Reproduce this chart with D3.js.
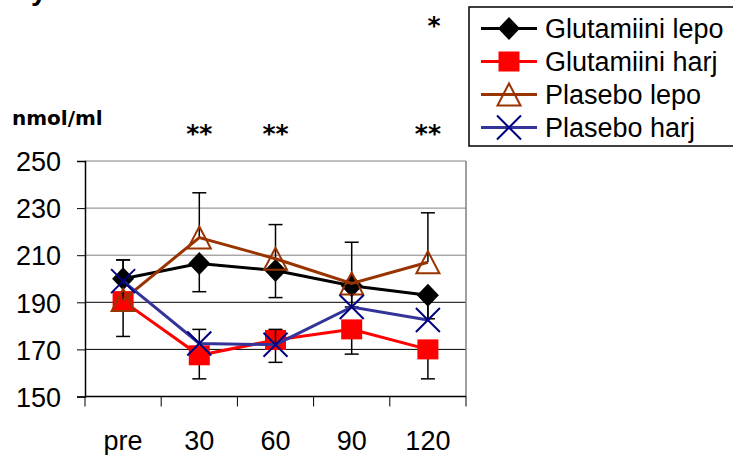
<!DOCTYPE html>
<html>
<head>
<meta charset="utf-8">
<script src="https://cdn.jsdelivr.net/npm/d3@7"></script>
<style>
  body { margin: 0; background: #fff; }
  svg { display: block; }
</style>
</head>
<body>
<svg id="canvas" width="733" height="455"></svg>
<script>
// time points
const categories = ["pre", "30", "60", "90", "120"];

// series means (nmol/ml)
const glutLepo = [200, 206.5, 203.5, 197, 193];
const glutHarj = [190.5, 167.5, 174, 178.5, 170];
const plasLepo = [191, 217.5, 208.5, 198, 207];
const plasHarj = [199, 172.5, 172, 188, 182.5];

// one-sided error bars
const glutLepoErr = [8, 12, 11.5, 9, 10];
const glutHarjErr = [15, 10, 9.5, 10.5, 12.5];
const plasLepoErr = [17, 19, 14.5, 17.5, 21];
const plasHarjErr = [9, 6, 6.5, 9, 10];

const yTicks = [150, 170, 190, 210, 230, 250];
const seriesNames = ["Glutamiini lepo", "Glutamiini harj", "Plasebo lepo", "Plasebo harj"];

// significance marks above the plot
const starLabels = ["**", "**", "**"];
const starCats = ["30", "60", "120"];

const svg = d3.select("#canvas");
const font = "'Liberation Sans', Arial, sans-serif";

const x = d3.scaleBand().domain(categories).range([85, 466]);
const y = d3.scaleLinear().domain([150, 250]).range([396.5, 161]);
const cx = (c) => x(c) + x.bandwidth() / 2;

const series = [
  { name: seriesNames[0], values: glutLepo, err: glutLepoErr, dir: -1, color: "#000000", marker: "diamond" },
  { name: seriesNames[1], values: glutHarj, err: glutHarjErr, dir: -1, color: "#ff0000", marker: "square" },
  { name: seriesNames[2], values: plasLepo, err: plasLepoErr, dir: 1, color: "#993300", marker: "triangle" },
  { name: seriesNames[3], values: plasHarj, err: plasHarjErr, dir: 1, color: "#333399", marker: "cross" },
];

// clipped title fragment at the very top (cut off in the original too)
svg.append("text")
  .attr("x", 31).attr("y", 0)
  .attr("font-family", font).attr("font-weight", "bold").attr("font-size", 28)
  .text("y");

// gridlines
svg.append("g")
  .selectAll("line")
  .data(yTicks.slice(1))
  .enter()
  .append("line")
  .attr("x1", 85).attr("x2", 466)
  .attr("y1", (d) => y(d)).attr("y2", (d) => y(d))
  .attr("stroke", (d) => (d > 200 ? "#808080" : "#000"))
  .attr("stroke-width", 1);

// right border
svg.append("line")
  .attr("x1", 466).attr("x2", 466).attr("y1", y(250)).attr("y2", y(150))
  .attr("stroke", "#808080").attr("stroke-width", 1.5);

// y axis
const yAxis = svg.append("g")
  .attr("transform", "translate(85,0)")
  .call(d3.axisLeft(y).tickValues(yTicks).tickSize(8).tickPadding(16));
yAxis.select(".domain").attr("stroke", "#000").attr("stroke-width", 1.5);
yAxis.selectAll(".tick line").attr("stroke", "#000").attr("stroke-width", 1);
yAxis.selectAll(".tick text")
  .attr("font-family", font).attr("font-size", 27).attr("fill", "#000")
  .attr("dy", "0.36em");

// x axis: ticks on band edges, labels in the centres
const xAxis = svg.append("g").attr("transform", `translate(0,${y(150)})`);
xAxis.append("line")
  .attr("x1", 85).attr("x2", 466)
  .attr("stroke", "#000").attr("stroke-width", 1.5);
const edges = categories.map((c) => x(c)).concat([x(categories[categories.length - 1]) + x.bandwidth()]);
xAxis.selectAll("line.tick")
  .data(edges)
  .enter()
  .append("line")
  .attr("class", "tick")
  .attr("x1", (d) => d).attr("x2", (d) => d)
  .attr("y1", 0).attr("y2", 10)
  .attr("stroke", "#000").attr("stroke-width", 1);
xAxis.selectAll("text")
  .data(categories)
  .enter()
  .append("text")
  .attr("x", (d) => cx(d))
  .attr("y", 53)
  .attr("text-anchor", "middle")
  .attr("font-family", font).attr("font-size", 27)
  .text((d) => d);

// unit label
svg.append("text")
  .attr("x", 12).attr("y", 125)
  .attr("font-family", "'DejaVu Sans', Verdana, sans-serif")
  .attr("font-weight", "bold").attr("font-size", 20)
  .text("nmol/ml");

// stars
svg.selectAll("text.star")
  .data(starCats)
  .enter()
  .append("text")
  .attr("class", "star")
  .attr("x", (d) => cx(d))
  .attr("y", 142)
  .attr("text-anchor", "middle")
  .attr("font-family", "'DejaVu Sans', sans-serif").attr("font-weight", "bold").attr("font-size", 25)
  .text((d, i) => starLabels[i]);
svg.append("text")
  .attr("x", 434).attr("y", 34)
  .attr("text-anchor", "middle")
  .attr("font-family", "'DejaVu Sans', sans-serif").attr("font-weight", "bold").attr("font-size", 25)
  .text("*");

const drawMarker = (g, s, px, py) => {
  if (s.marker === "diamond") {
    g.append("path")
      .attr("d", `M${px},${py - 11.5}L${px + 11},${py}L${px},${py + 11.5}L${px - 11},${py}Z`)
      .attr("fill", "#000");
  } else if (s.marker === "square") {
    g.append("rect")
      .attr("x", px - 10.5).attr("y", py - 10).attr("width", 21).attr("height", 20)
      .attr("fill", "#ff0000");
  } else if (s.marker === "triangle") {
    g.append("path")
      .attr("d", `M${px},${py - 11}L${px + 11.5},${py + 11}L${px - 11.5},${py + 11}Z`)
      .attr("fill", "none").attr("stroke", "#993300").attr("stroke-width", 2);
  } else {
    g.append("path")
      .attr("d", `M${px - 12},${py - 12}L${px + 12},${py + 12}M${px - 12},${py + 12}L${px + 12},${py - 12}`)
      .attr("stroke", "#000080").attr("stroke-width", 2).attr("fill", "none");
  }
};

const line = d3.line().x((d) => cx(d.c)).y((d) => y(d.v));

series.forEach((s) => {
  const g = svg.append("g");
  const pts = categories.map((c, i) => ({ c: c, v: s.values[i], e: s.err[i] }));

  // error bars
  pts.forEach((p) => {
    const end = y(p.v + s.dir * p.e);
    g.append("line")
      .attr("x1", cx(p.c)).attr("x2", cx(p.c))
      .attr("y1", y(p.v)).attr("y2", end)
      .attr("stroke", "#000").attr("stroke-width", 1.5);
    g.append("line")
      .attr("x1", cx(p.c) - 7).attr("x2", cx(p.c) + 7)
      .attr("y1", end).attr("y2", end)
      .attr("stroke", "#000").attr("stroke-width", 1.5);
  });

  g.append("path")
    .datum(pts)
    .attr("d", line)
    .attr("fill", "none")
    .attr("stroke", s.color)
    .attr("stroke-width", 3);

  pts.forEach((p) => drawMarker(g, s, cx(p.c), y(p.v)));
});

// legend
const legend = svg.append("g");
legend.append("rect")
  .attr("x", 469).attr("y", 7).attr("width", 300).attr("height", 139)
  .attr("fill", "#fff").attr("stroke", "#000").attr("stroke-width", 1.5);
series.forEach((s, i) => {
  const ly = 28.5 + i * 33;
  legend.append("line")
    .attr("x1", 481).attr("x2", 537).attr("y1", ly).attr("y2", ly)
    .attr("stroke", s.color).attr("stroke-width", 3);
  drawMarker(legend, s, 509, ly);
  legend.append("text")
    .attr("x", 545).attr("y", ly)
    .attr("dy", "0.36em")
    .attr("font-family", font).attr("font-size", 27)
    .text(s.name);
});
</script>
</body>
</html>
